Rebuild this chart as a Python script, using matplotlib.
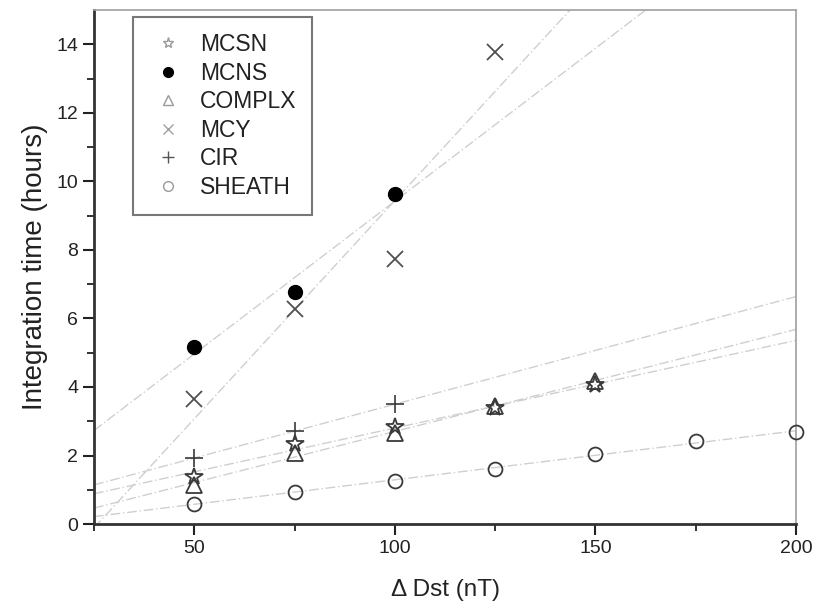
import numpy as np
import matplotlib
matplotlib.use("Agg")
import matplotlib.pyplot as plt
from matplotlib.lines import Line2D

plt.rcParams["font.family"] = ["Liberation Sans", "DejaVu Sans"]

# values
x_mcsn = [50, 75, 100, 125, 150]
y_mcsn = [1.38, 2.35, 2.84, 3.4, 4.05]
x_mcns = [50, 75, 100]
y_mcns = [5.17, 6.78, 9.63]
x_complx = [50, 75, 100, 125, 150]
y_complx = [1.14, 2.08, 2.66, 3.45, 4.18]
x_mcy = [50, 75, 100, 125]
y_mcy = [3.64, 6.27, 7.72, 13.77]
x_cir = [50, 75, 100]
y_cir = [1.93, 2.71, 3.5]
x_sheath = [50, 75, 100, 125, 150, 175, 200]
y_sheath = [0.6, 0.94, 1.26, 1.6, 2.04, 2.42, 2.69]

names = ["MCSN", "MCNS", "COMPLX", "MCY", "CIR", "SHEATH"]
xs = [x_mcsn, x_mcns, x_complx, x_mcy, x_cir, x_sheath]
ys = [y_mcsn, y_mcns, y_complx, y_mcy, y_cir, y_sheath]

fig = plt.figure(figsize=(8.14, 6.08), dpi=100)
ax = fig.add_axes([0.1155, 0.138, 0.8625, 0.8456])

# linear fits, drawn across the full x range
xx = np.linspace(25, 200, 50)
for x, y in zip(xs, ys):
    k, b = np.polyfit(x, y, 1)
    ax.plot(xx, k * xx + b, color="#cfcfcf", lw=1.0,
            linestyle=(0, (7, 2, 1, 2)), zorder=1)

dk = "#3a3a3a"
ax.plot(x_mcsn, y_mcsn, "*", ms=13, mfc="none", mec=dk, mew=1.3, ls="none", zorder=3)
ax.plot(x_mcns, y_mcns, "o", ms=10, mfc="black", mec="black", ls="none", zorder=3)
ax.plot(x_complx, y_complx, "^", ms=11, mfc="none", mec=dk, mew=1.3, ls="none", zorder=3)
ax.plot(x_mcy, y_mcy, "x", ms=12, mec="#505050", mew=1.3, ls="none", zorder=3)
ax.plot(x_cir, y_cir, "+", ms=13, mec=dk, mew=1.2, ls="none", zorder=3)
ax.plot(x_sheath, y_sheath, "o", ms=10, mfc="none", mec=dk, mew=1.3, ls="none",
        zorder=3, clip_on=False)

ax.set_xlim(25, 200)
ax.set_ylim(0, 15)
ax.set_xticks([50, 100, 150, 200])
ax.set_xticks([25, 75, 125, 175], minor=True)
ax.set_yticks(range(0, 15, 2))
ax.set_yticks(range(1, 15, 2), minor=True)
ax.tick_params(axis="both", which="major", length=8, width=1.5, labelsize=14,
               colors="#222222", direction="out")
ax.tick_params(axis="both", which="minor", length=5, width=1.3, direction="out",
               colors="#222222")
ax.tick_params(top=False, right=False)

for s in ["left", "bottom"]:
    ax.spines[s].set_linewidth(2.0)
    ax.spines[s].set_color("#333333")
for s in ["top", "right"]:
    ax.spines[s].set_linewidth(1.2)
    ax.spines[s].set_color("#a0a0a0")

ax.set_xlabel("\u0394 Dst (nT)", fontsize=17.5, color="#222222", labelpad=16)
ax.set_ylabel("Integration time (hours)", fontsize=20, color="#222222", labelpad=6)

# legend with lighter, smaller symbols as in the reference
handles = [
    Line2D([], [], marker="*", ls="none", ms=8, mfc="none", mec="#9a9a9a"),
    Line2D([], [], marker="o", ls="none", ms=7, mfc="black", mec="black"),
    Line2D([], [], marker="^", ls="none", ms=7, mfc="none", mec="#9a9a9a"),
    Line2D([], [], marker="x", ls="none", ms=7, mec="#a0a0a0"),
    Line2D([], [], marker="+", ls="none", ms=8, mec="#555555"),
    Line2D([], [], marker="o", ls="none", ms=7, mfc="none", mec="#9a9a9a"),
]
leg = ax.legend(handles, names, loc="upper left", bbox_to_anchor=(0.056, 0.986),
                fontsize=16.5, frameon=True, fancybox=False, borderpad=0.7,
                labelspacing=0.24, handletextpad=0.6, handlelength=1.6,
                borderaxespad=0)
leg.get_frame().set_edgecolor("#555555")
leg.get_frame().set_linewidth(1.5)
for t in leg.get_texts():
    t.set_color("#222222")

fig.savefig("out.png", dpi=100)
